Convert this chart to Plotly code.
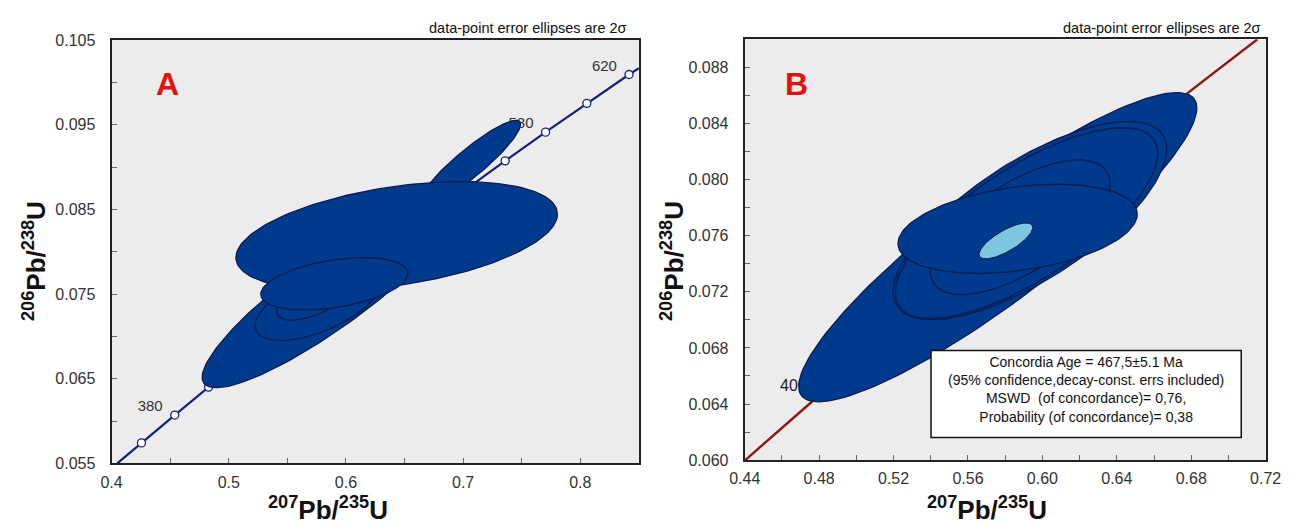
import numpy as np
import plotly.graph_objects as go

W, H = 1307, 525

# ---------------- data ----------------
# Panel A: concordia age markers (Ma) and their ratios
concA_age = [360, 380, 400, 420, 440, 460, 480, 500, 520, 540, 560, 580, 600, 620]
concA_x = [0.4255, 0.4539, 0.4828, 0.5123, 0.5424, 0.5731, 0.6044, 0.6363,
           0.6688, 0.7020, 0.7359, 0.7704, 0.8056, 0.8416]
concA_y = [0.05743, 0.06072, 0.06402, 0.06732, 0.07064, 0.07397, 0.07730, 0.08065,
           0.08401, 0.08738, 0.09075, 0.09414, 0.09754, 0.10095]
concA_start = (0.4048, 0.0550)
concA_end = (0.8500, 0.1017)
labelsA_age = [380, 580, 620]

# Panel A error ellipses (centre, 2-sigma half widths, correlation)
ellA_cx = [0.5858, 0.5767, 0.5725, 0.7058, 0.6433, 0.5901]
ellA_cy = [0.07514, 0.07388, 0.07445, 0.09047, 0.08189, 0.07623]
ellA_sx = [0.1085, 0.0542, 0.0317, 0.04325, 0.1372, 0.0628]
ellA_sy = [0.01119, 0.00435, 0.00252, 0.00506, 0.00641, 0.00309]
ellA_rho = [0.89, 0.60, 0.60, 0.91, 0.40, 0.40]

# Panel B: concordia curve as drawn
concB_x = [0.4403, 0.4834, 0.5275, 0.5727, 0.6191, 0.6668, 0.7156]
concB_y = [0.0600, 0.0650, 0.0700, 0.0750, 0.0800, 0.0850, 0.0900]
labelsB_age = [400]
labelsB_x = [0.4662]
labelsB_y = [0.0652]

# Panel B error ellipses; last one is the concordia-age ellipse
ellB_cx = [0.5760, 0.5933, 0.5915, 0.5880, 0.5867, 0.5804]
ellB_cy = [0.07518, 0.07708, 0.07690, 0.07660, 0.07649, 0.07563]
ellB_sx = [0.1070, 0.0735, 0.0705, 0.0483, 0.0643, 0.01444]
ellB_sy = [0.01102, 0.00707, 0.00680, 0.00480, 0.003175, 0.001277]
ellB_rho = [0.90, 0.72, 0.73, 0.65, 0.33, 0.75]

box_lines = ["Concordia Age = 467,5\u00b15.1 Ma",
             "(95% confidence,decay-const. errs included)",
             "MSWD  (of concordance)= 0,76,",
             "Probability (of concordance)= 0,38"]

# ---------------- styles ----------------
FILL = "#003A8C"
EDGE = "#0B1C4E"
LIGHT = "#7CC7DD"
NAVY = "#16237A"
MAROON = "#8E1B14"
BG = "#ECECEC"
FONT = "Liberation Sans, Arial, sans-serif"


def ellipse_xy(cx, cy, sx, sy, rho, n=181):
    t = np.linspace(0, 2 * np.pi, n)
    x = cx + sx * np.cos(t)
    y = cy + sy * (rho * np.cos(t) + np.sqrt(1 - rho ** 2) * np.sin(t))
    return x, y


def px(x):
    return x / W


def py(y):
    return 1 - y / H


fig = go.Figure()

# ---- panel A ----
fig.add_trace(go.Scatter(x=[concA_start[0]] + concA_x + [concA_end[0]],
                         y=[concA_start[1]] + concA_y + [concA_end[1]],
                         mode="lines", line=dict(color=NAVY, width=2.2),
                         xaxis="x", yaxis="y", hoverinfo="skip"))
fig.add_trace(go.Scatter(x=concA_x, y=concA_y, mode="markers",
                         marker=dict(symbol="circle", size=8, color="white",
                                     line=dict(color=NAVY, width=1.3)),
                         xaxis="x", yaxis="y", hoverinfo="skip"))
lab_x = [concA_x[concA_age.index(a)] - 0.021 for a in labelsA_age]
lab_y = [concA_y[concA_age.index(a)] + 0.0009 for a in labelsA_age]
fig.add_trace(go.Scatter(x=lab_x, y=lab_y, mode="text",
                         text=[str(a) for a in labelsA_age],
                         textfont=dict(family=FONT, size=15, color="#333333"),
                         xaxis="x", yaxis="y", hoverinfo="skip"))
for cx, cy, sx, sy, r in zip(ellA_cx, ellA_cy, ellA_sx, ellA_sy, ellA_rho):
    ex, ey = ellipse_xy(cx, cy, sx, sy, r)
    fig.add_trace(go.Scatter(x=ex, y=ey, mode="lines", fill="toself",
                             fillcolor=FILL, line=dict(color=EDGE, width=1.3),
                             xaxis="x", yaxis="y", hoverinfo="skip"))

# ---- panel B ----
fig.add_trace(go.Scatter(x=concB_x, y=concB_y, mode="lines",
                         line=dict(color=MAROON, width=2.4, shape="spline"),
                         xaxis="x2", yaxis="y2", hoverinfo="skip"))
fig.add_trace(go.Scatter(x=labelsB_x, y=labelsB_y, mode="text",
                         text=[str(a) for a in labelsB_age],
                         textfont=dict(family=FONT, size=16, color="#222222"),
                         xaxis="x2", yaxis="y2", hoverinfo="skip"))
for i, (cx, cy, sx, sy, r) in enumerate(zip(ellB_cx, ellB_cy, ellB_sx, ellB_sy, ellB_rho)):
    ex, ey = ellipse_xy(cx, cy, sx, sy, r)
    last = i == len(ellB_cx) - 1
    fig.add_trace(go.Scatter(x=ex, y=ey, mode="lines", fill="toself",
                             fillcolor=LIGHT if last else FILL,
                             line=dict(color=EDGE, width=1.0 if last else 1.3),
                             xaxis="x2", yaxis="y2", hoverinfo="skip"))

axis_common = dict(showgrid=False, zeroline=False, showline=True, mirror=True,
                   linecolor="#222222", linewidth=2, ticks="inside", ticklen=5,
                   tickcolor="#666666", tickwidth=1,
                   tickfont=dict(family=FONT, size=16, color="#333333"))
minor_common = dict(ticks="inside", ticklen=5, tickcolor="#666666")

fig.update_layout(
    width=W, height=H, margin=dict(l=0, r=0, t=0, b=0),
    paper_bgcolor="white", plot_bgcolor=BG, showlegend=False,
    xaxis=dict(domain=[px(98), px(638.5)], range=[0.4, 0.85], anchor="y",
               tick0=0.4, dtick=0.1, tickformat=".1f", ticklabelstandoff=3,
               minor=dict(tick0=0.4, dtick=0.05, **minor_common), **axis_common),
    yaxis=dict(domain=[py(470.7), py(33.3)], range=[0.055, 0.105], anchor="x",
               tick0=0.055, dtick=0.01, tickformat=".3f", ticklabelstandoff=11,
               minor=dict(tick0=0.055, dtick=0.005, **minor_common), **axis_common),
    xaxis2=dict(domain=[px(747), px(1281)], range=[0.44, 0.72], anchor="y2",
                tick0=0.44, dtick=0.04, tickformat=".2f", ticklabelstandoff=3,
                minor=dict(tick0=0.44, dtick=0.02, **minor_common), **axis_common),
    yaxis2=dict(domain=[py(467.3), py(32.3)], range=[0.060, 0.090], anchor="x2",
                tick0=0.060, dtick=0.004, tickformat=".3f", ticklabelstandoff=11,
                minor=dict(tick0=0.060, dtick=0.002, **minor_common), **axis_common),
)

ann = []
title_font = dict(family=FONT, size=26, color="#111111")
for xc in (320, 995):
    ann.append(dict(xref="paper", yref="paper", x=px(xc), y=py(498),
                    xanchor="center", yanchor="top", showarrow=False,
                    text="<b><sup>207</sup>Pb/<sup>235</sup>U</b>", font=title_font))
for xc in (19, 673):
    ann.append(dict(xref="paper", yref="paper", x=px(xc), y=py(262),
                    xanchor="center", yanchor="middle", showarrow=False, textangle=-90,
                    text="<b><sup>206</sup>Pb/<sup>238</sup>U</b>", font=title_font))
for xr in (628, 1278):
    ann.append(dict(xref="paper", yref="paper", x=px(xr), y=py(21),
                    xanchor="right", yanchor="middle", showarrow=False,
                    text="data-point error ellipses are 2\u03c3",
                    font=dict(family=FONT, size=14.5, color="#111111")))
for (xc, letter) in ((155, "A"), (800, "B")):
    ann.append(dict(xref="paper", yref="paper", x=px(xc), y=py(79),
                    xanchor="center", yanchor="middle", showarrow=False,
                    text="<b>%s</b>" % letter,
                    font=dict(family=FONT, size=32, color="#E2120F")))
ann.append(dict(xref="paper", yref="paper", x=px(1097), y=py(394),
                xanchor="center", yanchor="middle", showarrow=False,
                text="<br>".join(box_lines), align="center",
                font=dict(family=FONT, size=14, color="#111111")))
fig.update_layout(annotations=ann)
fig.add_shape(type="rect", xref="paper", yref="paper",
              x0=px(938), x1=px(1256), y0=py(444), y1=py(354),
              fillcolor="white", line=dict(color="#111111", width=1.5), layer="above")

fig.write_html("out.html")
